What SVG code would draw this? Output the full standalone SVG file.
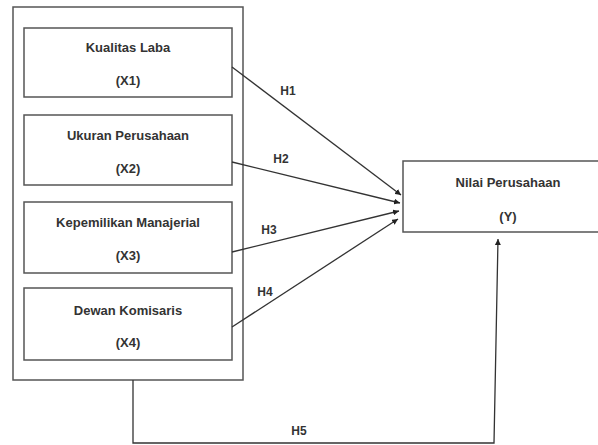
<svg xmlns="http://www.w3.org/2000/svg" width="598" height="445" viewBox="0 0 598 445">
<style>
.box{fill:#fff;stroke:#555;stroke-width:1.5}
.t{font-family:"Liberation Sans",Arial,sans-serif;font-weight:bold;font-size:13px;fill:#333;text-anchor:middle}
.lbl{font-family:"Liberation Sans",Arial,sans-serif;font-weight:bold;font-size:12px;fill:#333;text-anchor:middle}
.c{fill:none;stroke:#333;stroke-width:1.3}
</style>
<defs>
<marker id="ah" viewBox="0 0 10 10" refX="10" refY="5" markerWidth="6" markerHeight="6" orient="auto" markerUnits="userSpaceOnUse">
<path d="M0,0 L10,5 L0,10 z" fill="#222"/>
</marker>
</defs>
<rect width="598" height="445" fill="#fff"/>
<g id="outer"><rect class="box" x="13" y="7" width="230" height="373"/></g>
<g id="x1"><rect class="box" x="24" y="28" width="208" height="69"/>
<text class="t" x="128" y="52">Kualitas Laba</text><text class="t" x="128" y="85">(X1)</text></g>
<g id="x2"><rect class="box" x="24" y="115" width="208" height="70"/>
<text class="t" x="128" y="140">Ukuran Perusahaan</text><text class="t" x="128" y="173">(X2)</text></g>
<g id="x3"><rect class="box" x="24" y="202" width="208" height="71"/>
<text class="t" x="128" y="227">Kepemilikan Manajerial</text><text class="t" x="128" y="260">(X3)</text></g>
<g id="x4"><rect class="box" x="24" y="288" width="208" height="72"/>
<text class="t" x="128" y="315">Dewan Komisaris</text><text class="t" x="128" y="347">(X4)</text></g>
<g id="y"><rect class="box" x="403" y="161" width="200" height="71"/>
<text class="t" x="508" y="187">Nilai Perusahaan</text><text class="t" x="508" y="221">(Y)</text></g>
<g id="connectors">
<line class="c" x1="232" y1="67" x2="401" y2="195" marker-end="url(#ah)"/>
<line class="c" x1="232" y1="162" x2="400" y2="203" marker-end="url(#ah)"/>
<line class="c" x1="232" y1="252" x2="399" y2="211" marker-end="url(#ah)"/>
<line class="c" x1="232" y1="327" x2="398" y2="219" marker-end="url(#ah)"/>
<path class="c" d="M133,380 V443 H494 L498,239" marker-end="url(#ah)"/>
<text class="lbl" x="288" y="95">H1</text>
<text class="lbl" x="281" y="163">H2</text>
<text class="lbl" x="269" y="234">H3</text>
<text class="lbl" x="265" y="296">H4</text>
<text class="lbl" x="299" y="435">H5</text>
</g>
</svg>
